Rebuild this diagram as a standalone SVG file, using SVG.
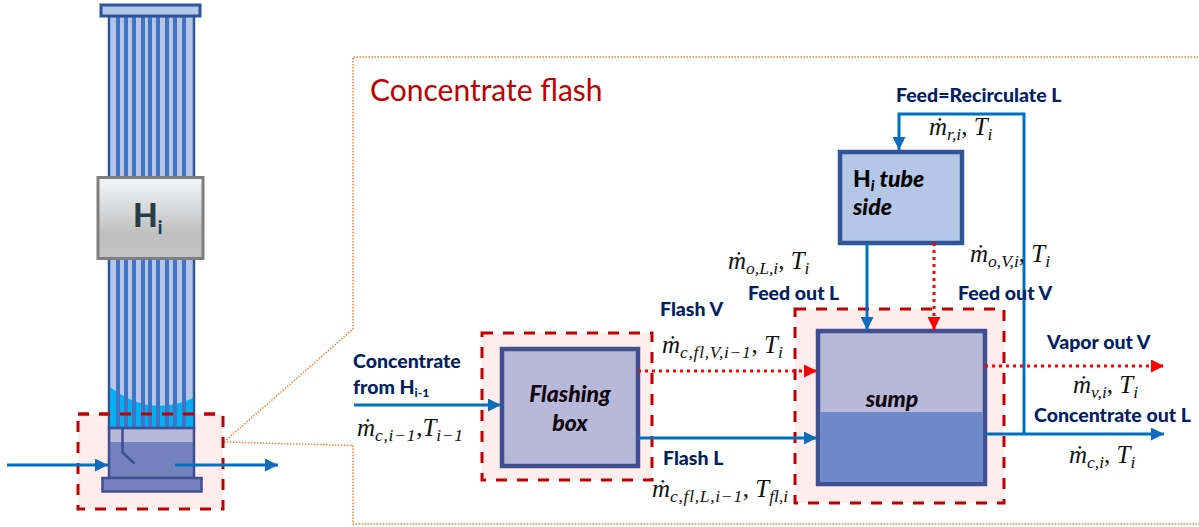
<svg xmlns="http://www.w3.org/2000/svg" width="1199" height="527" viewBox="0 0 1199 527">
<style>
text{font-family:"Lato","Liberation Sans",sans-serif}
.lab{font-size:19.500px;font-weight:900;fill:#002060}
.nm{font-size:23px;font-weight:900;font-style:italic;fill:#100810}
.m{font-family:"Liberation Serif","DejaVu Serif",serif;font-size:25px;font-style:italic;fill:#111}
.s{font-size:17.500px}
.w{font-size:17.500px;letter-spacing:.7px}
.zone{fill:#ffecec;stroke:#c00000;stroke-width:3;stroke-dasharray:11 10}
.box{fill:#b8b8d8;stroke:#3f4f8f;stroke-width:4.500}
.blue{fill:none;stroke:#0070c0;stroke-width:3}
.red{fill:none;stroke:#ff0000;stroke-width:3;stroke-dasharray:3 4}
.orange{fill:none;stroke:#ed7d31;stroke-width:1.400;stroke-dasharray:1.500 1.500}
.tube{fill:#4472c4}
</style>
<defs>
<marker id="ab" markerUnits="userSpaceOnUse" markerWidth="13" markerHeight="13" refX="13" refY="6.500" orient="auto"><path d="M0 0L13 6.500L0 13Z" fill="#0e6cb8"/></marker>
<marker id="ar" markerUnits="userSpaceOnUse" markerWidth="13" markerHeight="13" refX="13" refY="6.500" orient="auto"><path d="M0 0L13 6.500L0 13Z" fill="#ff0000"/></marker>
<linearGradient id="hg" x1="0" y1="0" x2="0" y2="1"><stop offset="0" stop-color="#f5f7fa"/><stop offset=".7" stop-color="#bfbfbf"/><stop offset="1" stop-color="#c4c4c4"/></linearGradient>
</defs>
<g id="frame">
<path class="orange" d="M224 442L353 329V57H1199M224 442L353 445.500V524H1199"/>
</g>
<g id="evaporator">
<rect x="78" y="414" width="145" height="95" class="zone"/>
<rect x="109" y="16" width="85" height="412" fill="#b4c7e7" stroke="#2f5597" stroke-width="2.500"/>
<path d="M110 387Q150 418 193 398V428H110Z" fill="#00b0f0"/>
<g class="tube">
<rect x="116" y="16" width="4" height="412"/><rect x="124" y="16" width="4" height="412"/><rect x="132" y="16" width="4" height="412"/><rect x="141" y="16" width="4" height="412"/><rect x="148" y="16" width="4" height="412"/><rect x="156" y="16" width="4" height="412"/><rect x="165" y="16" width="4" height="412"/><rect x="173" y="16" width="4" height="412"/><rect x="182" y="16" width="4" height="412"/>
</g>
<path d="M78 414H223" fill="none" stroke="#c00000" stroke-width="3" stroke-dasharray="11 10"/>
<rect x="101" y="5" width="99" height="11" fill="#b4c7e7" stroke="#2f5597" stroke-width="3"/>
<rect x="98" y="177.500" width="105" height="81" fill="url(#hg)" stroke="#7f7f7f" stroke-width="3"/>
<text x="133" y="227" font-size="32" font-weight="900" fill="#263f45">H<tspan font-size="18" dy="7">i</tspan></text>
<rect x="109" y="428" width="85" height="50" fill="#7482bd" stroke="#3f4f8f" stroke-width="2.500"/>
<rect x="110.500" y="429.500" width="82" height="12.500" fill="#b8b8d8"/>
<path d="M122.500 428V452.500L134.500 463.500" fill="none" stroke="#3f4f8f" stroke-width="2.500"/>
<rect x="102.500" y="478" width="99" height="13.500" fill="#7482bd" stroke="#3f4f8f" stroke-width="2.500"/>
</g>
<g id="flash-zone"><rect x="482" y="333" width="170" height="147" class="zone"/></g>
<g id="sump-zone"><rect x="795" y="309" width="209" height="194" class="zone"/></g>
<g id="flashing-box">
<rect x="502" y="349" width="136" height="117" class="box"/>
<text x="570" y="402" text-anchor="middle" class="nm">Flashing</text>
<text x="570" y="431" text-anchor="middle" class="nm">box</text>
</g>
<g id="sump">
<rect x="818" y="331" width="167" height="153" class="box"/>
<rect x="820.200" y="412" width="162.600" height="69.800" fill="#6c89c9"/>
<text x="892" y="407" text-anchor="middle" class="nm">sump</text>
</g>
<g id="tube-side">
<rect x="840" y="152" width="122" height="91" fill="#b4c7e7" stroke="#2f5597" stroke-width="4.500"/>
<text x="853" y="187" class="nm" style="font-style:normal;fill:#000">H<tspan font-size="15" dy="4" style="font-style:italic">i</tspan><tspan dy="-4" style="font-style:italic"> tube</tspan></text>
<text x="853" y="215" class="nm" style="fill:#000">side</text>
</g>
<g id="connectors">
<path class="blue" d="M7 465H108" marker-end="url(#ab)"/>
<path class="blue" d="M175 465H278" marker-end="url(#ab)"/>
<path class="blue" d="M354 405H501" marker-end="url(#ab)"/>
<path class="blue" d="M638 438H817" marker-end="url(#ab)"/>
<path class="blue" d="M985 434H1164" marker-end="url(#ab)"/>
<path class="blue" d="M1024 434V114H899V150" marker-end="url(#ab)"/>
<path class="blue" d="M867 243V330" marker-end="url(#ab)"/>
<path class="red" d="M934 243V330" marker-end="url(#ar)"/>
<path class="red" d="M638 371H817" marker-end="url(#ar)"/>
<path class="red" d="M985 366H1164" marker-end="url(#ar)"/>
</g>
<g id="labels">
<text x="370" y="101" font-size="30" fill="#c00000">Concentrate flash</text>
<text x="353" y="368" class="lab">Concentrate</text>
<text x="353" y="394" class="lab">from H<tspan font-size="12" dy="3">i-1</tspan></text>
<text x="896" y="102" class="lab">Feed=Recirculate L</text>
<text x="660" y="316" class="lab">Flash V</text>
<text x="663" y="465" class="lab">Flash L</text>
<text x="748" y="300" class="lab">Feed out L</text>
<text x="958" y="300" class="lab">Feed out V</text>
<text x="1047" y="349" class="lab">Vapor out V</text>
<text x="1034" y="422" class="lab">Concentrate out L</text>
<text x="357" y="436" class="m">ṁ<tspan class="w" dy="5">c,i−1</tspan><tspan dy="-5" style="font-style:normal">,</tspan>T<tspan class="w" dy="5">i−1</tspan></text>
<text x="662" y="353" class="m">ṁ<tspan class="w" dy="5">c,fl,V,i−1</tspan><tspan dy="-5" style="font-style:normal">, </tspan>T<tspan class="s" dy="5">i</tspan></text>
<text x="652" y="497" class="m">ṁ<tspan class="w" dy="5">c,fl,L,i−1</tspan><tspan dy="-5" style="font-style:normal">, </tspan>T<tspan class="s" dy="5">fl,i</tspan></text>
<text x="728" y="269" class="m">ṁ<tspan class="s" dy="5">o,L,i</tspan><tspan dy="-5" style="font-style:normal">, </tspan>T<tspan class="s" dy="5">i</tspan></text>
<text x="970" y="262" class="m">ṁ<tspan class="s" dy="5">o,V,i</tspan><tspan dy="-5" style="font-style:normal">, </tspan>T<tspan class="s" dy="5">i</tspan></text>
<text x="929" y="135" class="m">ṁ<tspan class="s" dy="5">r,i</tspan><tspan dy="-5" style="font-style:normal">, </tspan>T<tspan class="s" dy="5">i</tspan></text>
<text x="1073" y="393" class="m">ṁ<tspan class="s" dy="5">v,i</tspan><tspan dy="-5" style="font-style:normal">, </tspan>T<tspan class="s" dy="5">i</tspan></text>
<text x="1069" y="463" class="m">ṁ<tspan class="s" dy="5">c,i</tspan><tspan dy="-5" style="font-style:normal">, </tspan>T<tspan class="s" dy="5">i</tspan></text>
</g>
</svg>
